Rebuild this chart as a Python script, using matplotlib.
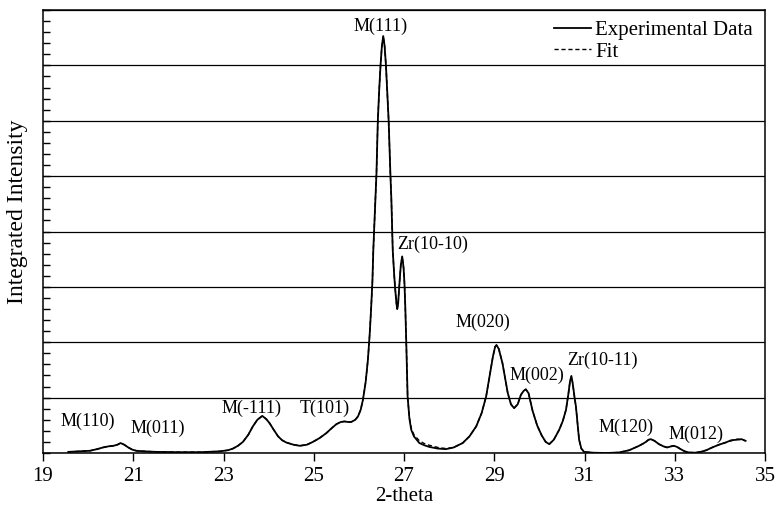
import matplotlib
matplotlib.use("Agg")
import matplotlib.pyplot as plt
from matplotlib.ticker import MultipleLocator, NullFormatter

plt.rcParams['font.family'] = ['Liberation Serif', 'DejaVu Serif']

# 2-theta positions
two_theta = [
    19.56, 19.80, 20.04, 20.20, 20.33, 20.45, 20.56, 20.65, 20.72, 20.80,
    20.89, 20.98, 21.07, 21.25, 21.52, 22.00, 22.50, 22.92, 23.10, 23.21,
    23.32, 23.43, 23.55, 23.65, 23.75, 23.86, 23.95, 24.02, 24.12, 24.21,
    24.30, 24.39, 24.55, 24.69, 24.85, 24.98, 25.13, 25.28, 25.40, 25.50,
    25.60, 25.68, 25.76, 25.83, 25.92, 25.98, 26.04, 26.09, 26.15, 26.20,
    26.24, 26.27, 26.30, 26.32, 26.36, 26.39, 26.42, 26.45, 26.48, 26.51,
    26.54, 26.57, 26.60, 26.63, 26.66, 26.70, 26.72, 26.75, 26.78, 26.80,
    26.83, 26.85, 26.87, 26.90, 26.93, 26.96, 26.99, 27.01, 27.03, 27.05,
    27.08, 27.12, 27.16, 27.22, 27.34, 27.45, 27.56, 27.75, 27.93, 28.10,
    28.30, 28.45, 28.60, 28.72, 28.82, 28.90, 28.97, 29.02, 29.05, 29.10,
    29.18, 29.24, 29.30, 29.37, 29.44, 29.52, 29.59, 29.65, 29.70, 29.76,
    29.85, 29.95, 30.05, 30.14, 30.22, 30.32, 30.44, 30.52, 30.59, 30.64,
    30.68, 30.71, 30.74, 30.78, 30.81, 30.85, 30.88, 30.93, 30.99, 31.20,
    31.50, 31.77, 31.99, 32.10, 32.21, 32.30, 32.36, 32.42, 32.47, 32.55,
    32.65, 32.75, 32.83, 32.92, 32.98, 33.05, 33.13, 33.22, 33.31, 33.45,
    33.57, 33.70, 33.83, 33.98, 34.13, 34.25, 34.38, 34.48, 34.57,
]

exp_intensity = [
    0.02, 0.03, 0.04, 0.07, 0.10, 0.12, 0.13, 0.15, 0.18, 0.15,
    0.10, 0.06, 0.04, 0.03, 0.02, 0.015, 0.015, 0.03, 0.05, 0.08,
    0.13, 0.20, 0.33, 0.48, 0.60, 0.67, 0.61, 0.54, 0.41, 0.30,
    0.23, 0.19, 0.15, 0.13, 0.15, 0.20, 0.27, 0.36, 0.45, 0.52,
    0.56, 0.57, 0.56, 0.56, 0.60, 0.66, 0.78, 0.96, 1.28, 1.68,
    2.15, 2.59, 3.10, 3.67, 4.45, 5.05, 6.00, 6.55, 7.00, 7.35,
    7.53, 7.35, 7.00, 6.50, 6.00, 5.00, 4.58, 3.67, 3.25, 3.01,
    2.72, 2.60, 2.70, 3.07, 3.40, 3.55, 3.35, 3.07, 2.60, 2.00,
    1.02, 0.62, 0.42, 0.30, 0.18, 0.14, 0.11, 0.08, 0.07, 0.10,
    0.18, 0.30, 0.48, 0.72, 1.02, 1.40, 1.74, 1.92, 1.95, 1.88,
    1.63, 1.35, 1.08, 0.88, 0.81, 0.88, 1.05, 1.12, 1.15, 1.08,
    0.76, 0.50, 0.32, 0.20, 0.16, 0.24, 0.42, 0.58, 0.78, 1.05,
    1.30, 1.39, 1.25, 1.00, 0.84, 0.50, 0.24, 0.08, 0.02, 0.005,
    0.00, 0.01, 0.05, 0.09, 0.13, 0.17, 0.20, 0.24, 0.25, 0.22,
    0.16, 0.12, 0.10, 0.12, 0.13, 0.11, 0.07, 0.03, 0.01, 0.005,
    0.02, 0.05, 0.10, 0.15, 0.19, 0.23, 0.24, 0.25, 0.22,
]

fit_intensity = [
    0.02, 0.03, 0.04, 0.07, 0.10, 0.12, 0.13, 0.15, 0.18, 0.15,
    0.10, 0.06, 0.04, 0.03, 0.02, 0.015, 0.015, 0.03, 0.05, 0.08,
    0.13, 0.20, 0.33, 0.48, 0.60, 0.67, 0.61, 0.54, 0.41, 0.30,
    0.23, 0.19, 0.15, 0.13, 0.15, 0.20, 0.27, 0.36, 0.45, 0.52,
    0.56, 0.57, 0.56, 0.56, 0.60, 0.66, 0.78, 0.96, 1.28, 1.68,
    2.15, 2.59, 3.10, 3.67, 4.45, 5.05, 6.00, 6.55, 7.00, 7.35,
    7.53, 7.35, 7.00, 6.50, 6.00, 5.00, 4.58, 3.67, 3.25, 3.01,
    2.72, 2.60, 2.70, 3.07, 3.40, 3.55, 3.35, 3.07, 2.60, 2.00,
    1.02, 0.64, 0.45, 0.33, 0.22, 0.17, 0.14, 0.10, 0.08, 0.10,
    0.18, 0.30, 0.48, 0.72, 1.02, 1.40, 1.74, 1.92, 1.95, 1.88,
    1.63, 1.35, 1.08, 0.88, 0.81, 0.88, 1.05, 1.12, 1.15, 1.08,
    0.76, 0.50, 0.32, 0.20, 0.16, 0.24, 0.42, 0.58, 0.78, 1.05,
    1.30, 1.39, 1.25, 1.00, 0.84, 0.50, 0.24, 0.08, 0.02, 0.005,
    0.00, 0.01, 0.05, 0.09, 0.13, 0.17, 0.20, 0.24, 0.25, 0.22,
    0.16, 0.12, 0.10, 0.12, 0.13, 0.11, 0.07, 0.03, 0.01, 0.005,
    0.02, 0.05, 0.10, 0.15, 0.19, 0.22, 0.25, 0.24, 0.22,
]

x_ticks = [19, 21, 23, 25, 27, 29, 31, 33, 35]

# peak labels and where they sit
peak_names = ['M(110)', 'M(011)', 'M(-111)', 'T(101)', 'M(111)', 'Zr(10-10)',
              'M(020)', 'M(002)', 'Zr(10-11)', 'M(120)', 'M(012)']
peak_x = [20.00, 21.55, 23.63, 25.24, 26.47, 27.63, 28.74, 29.94, 31.39, 31.93, 33.48]
peak_y = [0.57, 0.45, 0.81, 0.80, 7.70, 3.76, 2.36, 1.41, 1.67, 0.46, 0.34]

fig = plt.figure(figsize=(7.78, 5.13), dpi=100)
ax = fig.add_subplot(111)
fig.subplots_adjust(left=43/778, right=765/778, bottom=60/513, top=503/513)

ax.plot(two_theta, exp_intensity, color='black', lw=1.3, label='Experimental Data')
ax.plot(two_theta, fit_intensity, color='black', lw=1.0, ls=(0, (3, 2)), label='Fit')

for name, px, py in zip(peak_names, peak_x, peak_y):
    ax.text(px, py, name, ha='center', va='center', fontsize=13)

ax.set_xlim(19, 35)
ax.set_ylim(0, 8)
ax.set_xticks(x_ticks)
ax.yaxis.set_major_locator(MultipleLocator(1))
ax.yaxis.set_minor_locator(MultipleLocator(0.2))
ax.yaxis.set_major_formatter(NullFormatter())
ax.grid(axis='y', color='black', lw=0.9)
ax.tick_params(axis='x', direction='out', length=6, width=1, labelsize=15, pad=4)
ax.tick_params(axis='y', which='both', direction='in', length=5, width=1)
for s in ax.spines.values():
    s.set_linewidth(1.1)

ax.set_xlabel('2-theta', fontsize=15, labelpad=1)
ax.set_ylabel('Integrated Intensity', fontsize=17)
ax.yaxis.set_label_coords(-0.021, 0.544)

ax.legend(loc='upper right', frameon=False, fontsize=15, handlelength=1.8,
          handletextpad=0.2, labelspacing=0.1, borderaxespad=0.1,
          bbox_to_anchor=(0.998, 1.0))

fig.savefig('out.png', dpi=100)
